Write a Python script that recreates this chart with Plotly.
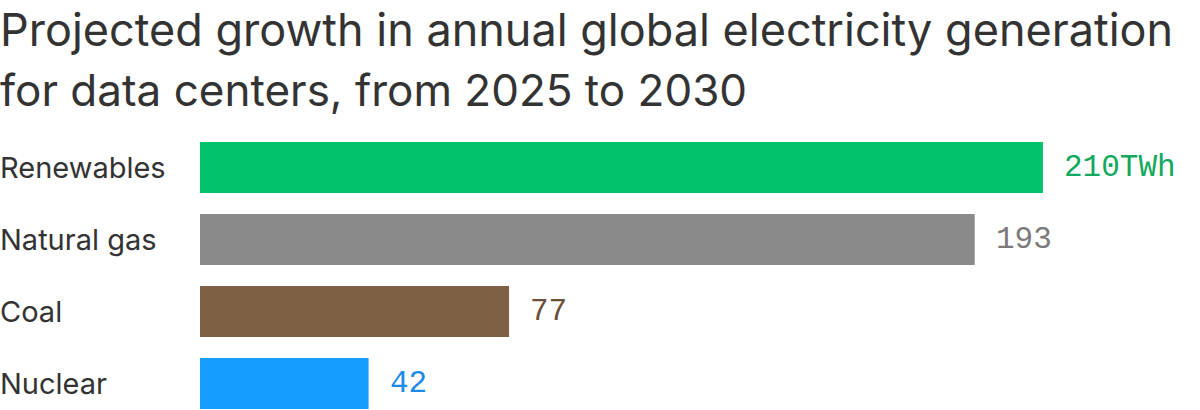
import plotly.graph_objects as go

categories = ["Renewables", "Natural gas", "Coal", "Nuclear"]
values = [210, 193, 77, 42]
value_labels = ["210TWh", "193", "77", "42"]
bar_colors = ["#00C36B", "#8A8A8A", "#7E6145", "#159EFF"]
text_colors = ["#12A85E", "#7A7A7A", "#6B4F36", "#1C8AE6"]
title_lines = ["Projected growth in annual global electricity generation",
               "for data centers, from 2025 to 2030"]

W, H = 1200, 410
ml, mr, mt, mb = 200, 37, 131, 0
plot_w = W - ml - mr
plot_h = H - mt - mb

fig = go.Figure()
fig.add_trace(go.Bar(
    x=values, y=categories, orientation="h",
    marker=dict(color=bar_colors, line=dict(width=0)),
    width=0.71, hoverinfo="skip", showlegend=False,
))

annotations = []
for c, v, lab, tc in zip(categories, values, value_labels, text_colors):
    annotations.append(dict(
        x=v, y=c, xref="x", yref="y", text=lab, showarrow=False,
        xanchor="left", yanchor="middle", xshift=19,
        font=dict(family="Liberation Mono", size=31, color=tc),
    ))
    annotations.append(dict(
        x=-ml / plot_w, y=c, xref="paper", yref="y", text=c, showarrow=False,
        xanchor="left", yanchor="middle", xshift=-2,
        font=dict(family="Inter", size=29, color="#333333"),
    ))

for i, (line, size) in enumerate(zip(title_lines, [45, 44])):
    annotations.append(dict(
        x=-ml / plot_w, y=1 + mt / plot_h, xref="paper", yref="paper",
        text=line, showarrow=False, align="left",
        xanchor="left", yanchor="top", xshift=-2, yshift=-61 * i,
        font=dict(family="Inter", size=size, color="#333333"),
    ))

fig.update_layout(
    width=W, height=H,
    margin=dict(l=ml, r=mr, t=mt, b=mb),
    paper_bgcolor="white", plot_bgcolor="white",
    xaxis=dict(range=[0, plot_w / 4.014], visible=False, fixedrange=True),
    yaxis=dict(range=[3.368, -0.507], visible=False, fixedrange=True,
               categoryorder="array", categoryarray=categories),
    annotations=annotations,
)

fig.write_html("out.html")
